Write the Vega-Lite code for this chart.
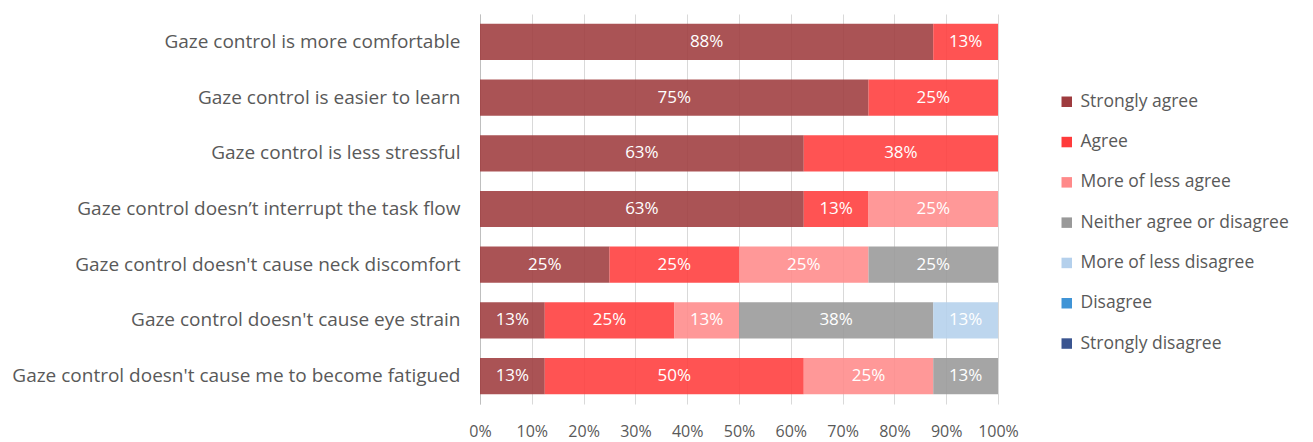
{
  "$schema": "https://vega.github.io/schema/vega-lite/v6.json",
  "width": 518,
  "height": 390,
  "autosize": {"type": "none"},
  "padding": {"left": 480, "top": 14, "right": 315, "bottom": 38},
  "background": "white",
  "config": {"view": {"stroke": null}, "font": "Open Sans"},
  "data": {"values": [
    {"q": "Gaze control is more comfortable", "r": "Strongly agree", "v": 0.875},
    {"q": "Gaze control is more comfortable", "r": "Agree", "v": 0.125},
    {"q": "Gaze control is easier to learn", "r": "Strongly agree", "v": 0.75},
    {"q": "Gaze control is easier to learn", "r": "Agree", "v": 0.25},
    {"q": "Gaze control is less stressful", "r": "Strongly agree", "v": 0.625},
    {"q": "Gaze control is less stressful", "r": "Agree", "v": 0.375},
    {"q": "Gaze control doesn’t interrupt the task flow", "r": "Strongly agree", "v": 0.625},
    {"q": "Gaze control doesn’t interrupt the task flow", "r": "Agree", "v": 0.125},
    {"q": "Gaze control doesn’t interrupt the task flow", "r": "More of less agree", "v": 0.25},
    {"q": "Gaze control doesn't cause neck discomfort", "r": "Strongly agree", "v": 0.25},
    {"q": "Gaze control doesn't cause neck discomfort", "r": "Agree", "v": 0.25},
    {"q": "Gaze control doesn't cause neck discomfort", "r": "More of less agree", "v": 0.25},
    {"q": "Gaze control doesn't cause neck discomfort", "r": "Neither agree or disagree", "v": 0.25},
    {"q": "Gaze control doesn't cause eye strain", "r": "Strongly agree", "v": 0.125},
    {"q": "Gaze control doesn't cause eye strain", "r": "Agree", "v": 0.25},
    {"q": "Gaze control doesn't cause eye strain", "r": "More of less agree", "v": 0.125},
    {"q": "Gaze control doesn't cause eye strain", "r": "Neither agree or disagree", "v": 0.375},
    {"q": "Gaze control doesn't cause eye strain", "r": "More of less disagree", "v": 0.125},
    {"q": "Gaze control  doesn't cause me to become fatigued", "r": "Strongly agree", "v": 0.125},
    {"q": "Gaze control  doesn't cause me to become fatigued", "r": "Agree", "v": 0.5},
    {"q": "Gaze control  doesn't cause me to become fatigued", "r": "More of less agree", "v": 0.25},
    {"q": "Gaze control  doesn't cause me to become fatigued", "r": "Neither agree or disagree", "v": 0.125}
  ]},
  "transform": [
    {"calculate": "indexof(['Strongly agree','Agree','More of less agree','Neither agree or disagree','More of less disagree','Disagree','Strongly disagree'], datum.r)", "as": "k"},
    {"stack": "v", "groupby": ["q"], "sort": [{"field": "k", "order": "ascending"}], "as": ["x0", "x1"]},
    {"calculate": "(datum.x0 + datum.x1) / 2", "as": "mid"}
  ],
  "encoding": {
    "y": {
      "field": "q", "type": "nominal", "sort": null, "title": null,
      "scale": {"paddingInner": 0.35, "paddingOuter": 0.175},
      "axis": {"ticks": false, "domainColor": "#bfbfbf", "labelFontSize": 19, "labelColor": "#595959", "labelPadding": 20, "labelLimit": 480, "labelFont": "Open Sans"}
    }
  },
  "layer": [
    {
      "mark": {"type": "bar", "opacity": 0.88},
      "encoding": {
        "x": {"field": "x0", "type": "quantitative", "scale": {"domain": [0, 1]}, "title": null,
          "axis": {"format": ".0%", "values": [0,0.1,0.2,0.3,0.4,0.5,0.6,0.7,0.8,0.9,1], "labelOverlap": false, "labelBound": false, "labelFlush": false, "domain": false, "ticks": false, "grid": true, "gridColor": "#d9d9d9", "labelFontSize": 16, "labelColor": "#595959", "labelPadding": 19, "labelFont": "Open Sans"}},
        "x2": {"field": "x1"},
        "color": {
          "field": "r", "type": "nominal", "title": null,
          "scale": {
            "domain": ["Strongly agree","Agree","More of less agree","Neither agree or disagree","More of less disagree","Disagree","Strongly disagree"],
            "range": ["#9e3b3e","#ff3b3b","#ff8a8a","#999999","#b4d0ec","#3f94d6","#3a5590"]
          },
          "legend": {"orient": "none", "legendX": 578, "legendY": 79, "symbolType": "square", "symbolSize": 110, "symbolOpacity": 1, "labelFontSize": 17.5, "labelColor": "#595959", "rowPadding": 21.3, "labelOffset": 5, "labelFont": "Open Sans", "labelLimit": 300}
        }
      }
    },
    {
      "mark": {"type": "text", "color": "white", "fontSize": 17, "font": "Open Sans"},
      "encoding": {
        "x": {"field": "mid", "type": "quantitative"},
        "text": {"field": "v", "type": "quantitative", "format": ".0%"}
      }
    }
  ]
}
